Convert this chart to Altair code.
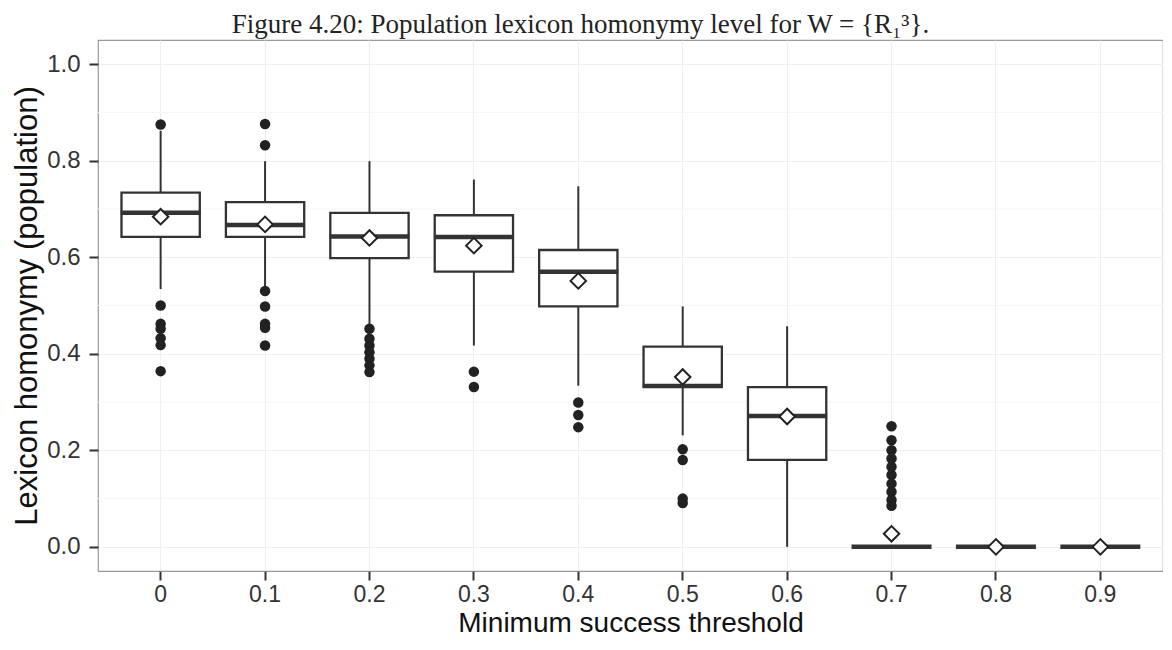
import altair as alt
import pandas as pd

# ---- data ----
thresholds = ["0", "0.1", "0.2", "0.3", "0.4", "0.5", "0.6", "0.7", "0.8", "0.9"]
q1 = [0.642, 0.642, 0.598, 0.570, 0.498, 0.332, 0.180, 0.0, 0.0, 0.0]
median = [0.692, 0.667, 0.643, 0.642, 0.570, 0.333, 0.271, 0.0, 0.0, 0.0]
q3 = [0.734, 0.714, 0.692, 0.687, 0.615, 0.415, 0.331, 0.0, 0.0, 0.0]
whisker_low = [0.534, 0.540, 0.460, 0.417, 0.334, 0.231, 0.000, 0.0, 0.0, 0.0]
whisker_high = [0.862, 0.799, 0.799, 0.761, 0.747, 0.498, 0.457, 0.0, 0.0, 0.0]
means = [0.684, 0.668, 0.640, 0.624, 0.551, 0.352, 0.270, 0.027, 0.0, 0.0]

outliers_0 = [0.875, 0.500, 0.462, 0.452, 0.432, 0.418, 0.364]
outliers_01 = [0.876, 0.832, 0.530, 0.498, 0.462, 0.454, 0.417]
outliers_02 = [0.452, 0.431, 0.417, 0.403, 0.390, 0.376, 0.362]
outliers_03 = [0.363, 0.331]
outliers_04 = [0.299, 0.273, 0.248]
outliers_05 = [0.202, 0.180, 0.100, 0.091]
outliers_07 = [0.250, 0.221, 0.200, 0.183, 0.166, 0.149, 0.131, 0.114, 0.097, 0.085]

minor_grid = [0.1, 0.3, 0.5, 0.7, 0.9]
y_ticks = [0.0, 0.2, 0.4, 0.6, 0.8, 1.0]

stats = pd.DataFrame({
    "threshold": thresholds, "q1": q1, "median": median, "q3": q3,
    "lo": whisker_low, "hi": whisker_high, "mean": means,
})
out_rows = []
for t, vals in [("0", outliers_0), ("0.1", outliers_01), ("0.2", outliers_02),
                ("0.3", outliers_03), ("0.4", outliers_04), ("0.5", outliers_05),
                ("0.7", outliers_07)]:
    for v in vals:
        out_rows.append({"threshold": t, "value": v})
outs = pd.DataFrame(out_rows)
grid_df = pd.DataFrame({"g": minor_grid})

AX_FONT = "Liberation Sans"
DARK = "#333333"

x_enc = alt.X(
    "threshold:N", sort=thresholds,
    scale=alt.Scale(paddingInner=0.25, paddingOuter=0.225),
    axis=alt.Axis(
        title="Minimum success threshold", labelAngle=0, labelFontSize=23,
        labelFont=AX_FONT, labelColor=DARK, titleFont=AX_FONT, titleFontSize=28,
        titleFontWeight="normal", titleColor="#111111", tickSize=9, tickWidth=2,
        tickColor=DARK, domain=False, grid=True, gridColor="#efefef",
        labelPadding=3, titlePadding=3,
    ),
)
y_scale = alt.Scale(domain=[-0.05, 1.05], nice=False, zero=False)
y_axis = alt.Axis(
    title="Lexicon homonymy (population)", values=y_ticks, format=".1f",
    labelFontSize=24, labelFont=AX_FONT, labelColor=DARK, titleFont=AX_FONT,
    titleFontSize=31, titleFontWeight="normal", titleColor="#111111",
    tickSize=9, tickWidth=2, tickColor=DARK, domain=False, grid=True,
    gridColor="#efefef", labelPadding=9, titlePadding=3,
)

base = alt.Chart(stats)

minor = alt.Chart(grid_df).mark_rule(color="#f6f6f6", strokeWidth=1).encode(
    y=alt.Y("g:Q", scale=y_scale, axis=y_axis)
)

whisk_low = base.mark_rule(color=DARK, strokeWidth=2).encode(
    x=x_enc, y=alt.Y("lo:Q", scale=y_scale, axis=y_axis), y2="q1:Q"
)
whisk_high = base.mark_rule(color=DARK, strokeWidth=2).encode(
    x=x_enc, y=alt.Y("q3:Q", scale=y_scale, axis=y_axis), y2="hi:Q"
)
boxes = base.mark_bar(fill="white", stroke=DARK, strokeWidth=2.3).encode(
    x=x_enc, y=alt.Y("q1:Q", scale=y_scale, axis=y_axis), y2="q3:Q"
)
med = base.mark_tick(color=DARK, thickness=4.5, size=80, opacity=1).encode(
    x=x_enc, y=alt.Y("median:Q", scale=y_scale, axis=y_axis)
)
pts = alt.Chart(outs).mark_circle(size=110, color="#222222", opacity=1).encode(
    x=x_enc, y=alt.Y("value:Q", scale=y_scale, axis=y_axis)
)
mean_pts = base.mark_point(
    shape="diamond", filled=True, fill="white", stroke="#222222",
    strokeWidth=2, size=240, opacity=1
).encode(x=x_enc, y=alt.Y("mean:Q", scale=y_scale, axis=y_axis))

chart = alt.layer(minor, whisk_low, whisk_high, boxes, med, pts, mean_pts).properties(
    width=1065, height=531,
    padding={"left": 90, "top": 32, "right": 0, "bottom": 70},
    autosize=alt.AutoSizeParams(type="none"),
    background="white",
    title=alt.TitleParams(
        text="Figure 4.20: Population lexicon homonymy level for W = {R\u2081\u00b3}.",
        font="Liberation Serif", fontSize=27, fontWeight="normal", color="#222222",
        anchor="middle", dx=-50, offset=1,
    ),
).configure_view(stroke="#999999", strokeWidth=1.2)

chart.save("out.html", embed_options={"renderer": "svg", "actions": False})
